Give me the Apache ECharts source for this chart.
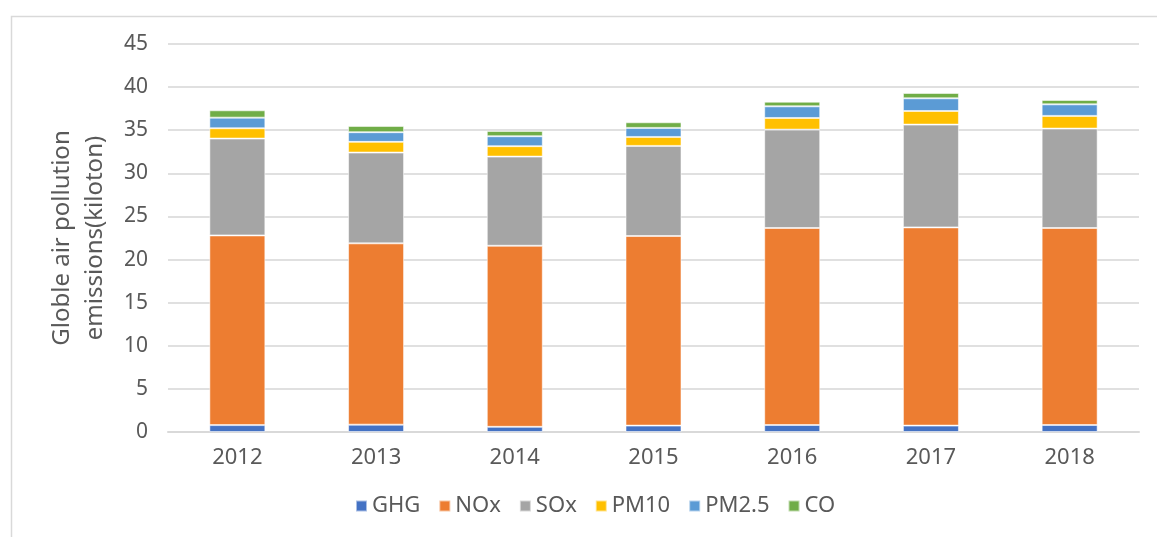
<!DOCTYPE html>
<html>
<head>
<meta charset="utf-8">
<script src="https://cdn.jsdelivr.net/npm/echarts@6/dist/echarts.min.js"></script>
<style>
  html, body { margin: 0; padding: 0; background: #fff; }
  #chart { width: 1157px; height: 537px; }
</style>
</head>
<body>
<div id="chart"></div>
<script>
// 数据
const years = ['2012', '2013', '2014', '2015', '2016', '2017', '2018'];
const ghg = [0.8, 0.85, 0.6, 0.74, 0.81, 0.74, 0.81];
const nox = [22.0, 21.03, 21.0, 21.99, 22.85, 22.99, 22.85];
const sox = [11.23, 10.53, 10.34, 10.45, 11.41, 11.92, 11.53];
const pm10 = [1.2, 1.24, 1.21, 1.04, 1.35, 1.58, 1.47];
const pm25 = [1.23, 1.12, 1.15, 1.05, 1.35, 1.47, 1.34];
const co = [0.85, 0.73, 0.62, 0.65, 0.54, 0.62, 0.51];
const yTicks = [0, 5, 10, 15, 20, 25, 30, 35, 40, 45];

const font = "'Noto Sans', sans-serif";
const textColor = '#595959';

const myChart = echarts.init(document.getElementById('chart'));

// 系列
const makeSeries = (name, data, color) => ({
  name: name,
  type: 'bar',
  stack: 'total',
  barWidth: 56,
  data: data,
  itemStyle: {
    color: color,
    borderColor: 'rgba(255,255,255,0.55)',
    borderWidth: 1,
  },
});

const option = {
  animation: false,
  graphic: [
    {
      type: 'rect',
      left: 9,
      top: 14,
      shape: { width: 1170, height: 540 },
      style: { fill: 'none', stroke: '#d9d9d9', lineWidth: 1.5 },
      silent: true,
    },
  ],
  grid: {
    left: 168,
    right: 18,
    top: 44,
    bottom: 105,
  },
  legend: {
    bottom: 15,
    left: 350,
    itemWidth: 11,
    itemHeight: 11,
    itemGap: 18,
    icon: 'rect',
    textStyle: { color: textColor, fontSize: 22, fontFamily: font },
    data: ['GHG', 'NOx', 'SOx', 'PM10', 'PM2.5', 'CO'],
  },
  xAxis: {
    type: 'category',
    data: years,
    axisLine: { lineStyle: { color: '#d9d9d9', width: 2 } },
    axisTick: { show: false },
    axisLabel: {
      color: textColor,
      fontSize: 22,
      fontFamily: font,
      margin: 15,
    },
  },
  yAxis: {
    type: 'value',
    min: yTicks[0],
    max: yTicks[yTicks.length - 1],
    interval: 5,
    name: 'Globle air pollution\nemissions(kiloton)',
    nameLocation: 'middle',
    nameGap: 56,
    nameRotate: 90,
    nameTextStyle: {
      color: textColor,
      fontSize: 24,
      fontFamily: font,
      lineHeight: 33,
    },
    axisLine: { show: false },
    axisTick: { show: false },
    axisLabel: {
      color: textColor,
      fontSize: 21,
      fontFamily: font,
      margin: 20,
    },
    splitLine: { lineStyle: { color: '#e0e0e0', width: 2 } },
  },
  series: [
    makeSeries('GHG', ghg, '#4472C4'),
    makeSeries('NOx', nox, '#ED7D31'),
    makeSeries('SOx', sox, '#A5A5A5'),
    makeSeries('PM10', pm10, '#FFC000'),
    makeSeries('PM2.5', pm25, '#5B9BD5'),
    makeSeries('CO', co, '#70AD47'),
  ],
};

myChart.setOption(option);
</script>
</body>
</html>
